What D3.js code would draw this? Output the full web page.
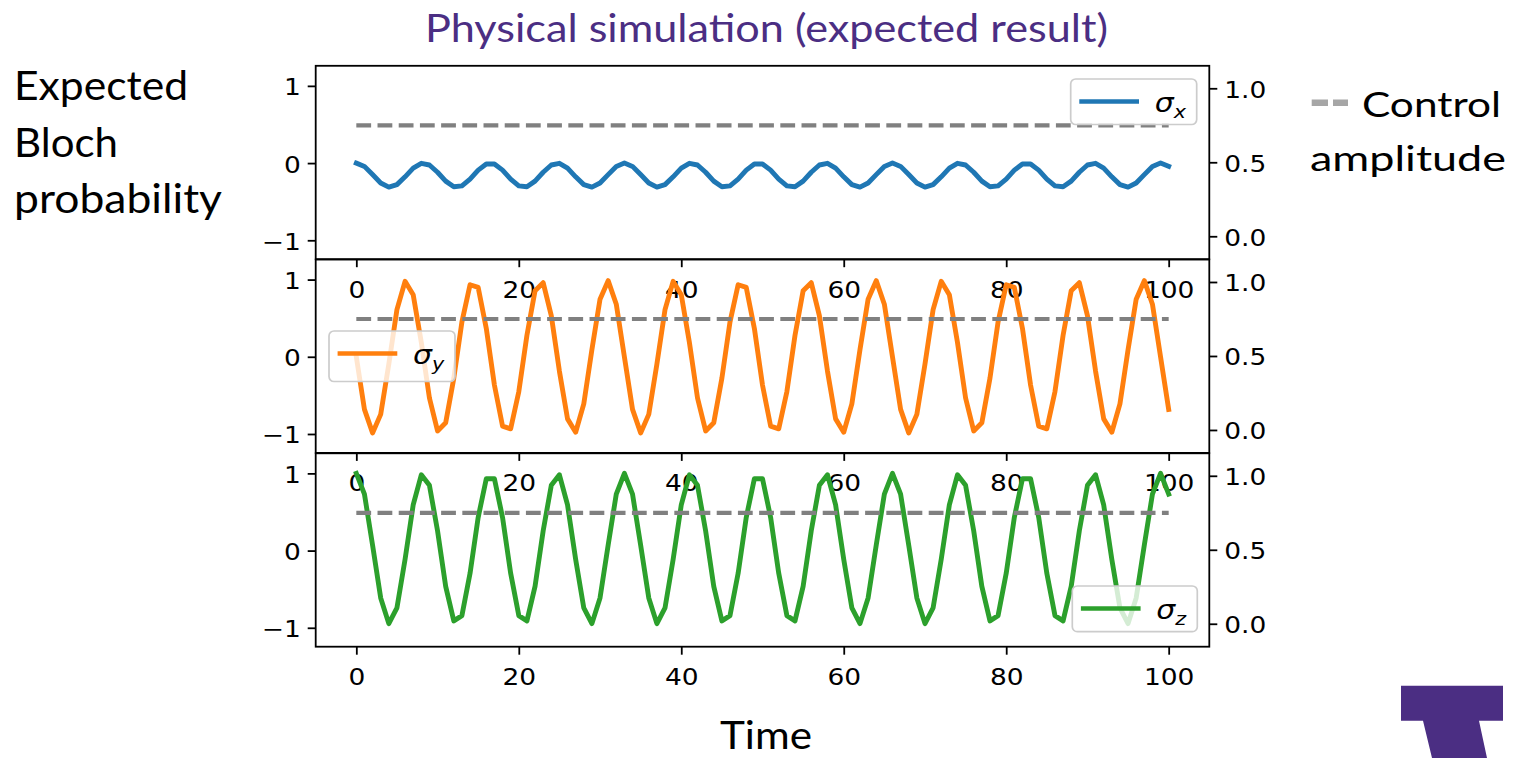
<!DOCTYPE html>
<html>
<head>
<meta charset="utf-8">
<script src="https://cdn.jsdelivr.net/npm/d3@7"></script>
<style>
  body { margin: 0; background: #fff; }
  svg { display: block; }
</style>
</head>
<body>
<svg id="chart" width="1519" height="758"></svg>
<script>
// ---- data -------------------------------------------------------------
const time = d3.range(0, 101);

const sigmaX = [
  0, -0.043, -0.149, -0.258, -0.312, -0.279, -0.178, -0.066, -0.003, -0.025, -0.119,
  -0.234, -0.306, -0.295, -0.207, -0.091, -0.011, -0.011, -0.091, -0.207, -0.295, -0.306,
  -0.234, -0.119, -0.025, -0.003, -0.066, -0.178, -0.279, -0.312, -0.258, -0.149, -0.043,
  0, -0.043, -0.149, -0.258, -0.312, -0.279, -0.178, -0.066, -0.003, -0.025, -0.119,
  -0.234, -0.306, -0.295, -0.207, -0.091, -0.011, -0.011, -0.091, -0.207, -0.295, -0.306,
  -0.234, -0.119, -0.025, -0.003, -0.066, -0.178, -0.279, -0.312, -0.258, -0.149, -0.043,
  0, -0.043, -0.149, -0.258, -0.312, -0.279, -0.178, -0.066, -0.003, -0.025, -0.119,
  -0.234, -0.306, -0.295, -0.207, -0.091, -0.011, -0.011, -0.091, -0.207, -0.295, -0.306,
  -0.234, -0.119, -0.025, -0.003, -0.066, -0.178, -0.279, -0.312, -0.258, -0.149, -0.043,
  0, -0.043
];

const sigmaY = [
  0, -0.681, -0.986, -0.746, -0.094, 0.610, 0.977, 0.804, 0.187, -0.534, -0.960,
  -0.855, -0.278, 0.452, 0.933, 0.898, 0.367, -0.367, -0.898, -0.933, -0.452, 0.278,
  0.855, 0.960, 0.534, -0.187, -0.804, -0.977, -0.610, 0.094, 0.746, 0.986, 0.681,
  0, -0.681, -0.986, -0.746, -0.094, 0.610, 0.977, 0.804, 0.187, -0.534, -0.960,
  -0.855, -0.278, 0.452, 0.933, 0.898, 0.367, -0.367, -0.898, -0.933, -0.452, 0.278,
  0.855, 0.960, 0.534, -0.187, -0.804, -0.977, -0.610, 0.094, 0.746, 0.986, 0.681,
  0, -0.681, -0.986, -0.746, -0.094, 0.610, 0.977, 0.804, 0.187, -0.534, -0.960,
  -0.855, -0.278, 0.452, 0.933, 0.898, 0.367, -0.367, -0.898, -0.933, -0.452, 0.278,
  0.855, 0.960, 0.534, -0.187, -0.804, -0.977, -0.610, 0.094, 0.746, 0.986, 0.681,
  0, -0.681
];

const sigmaZ = [
  1.000, 0.731, 0.071, -0.614, -0.946, -0.741, -0.114, 0.591, 0.982, 0.845, 0.255,
  -0.463, -0.911, -0.842, -0.294, 0.430, 0.930, 0.930, 0.430, -0.294, -0.842, -0.911,
  -0.463, 0.255, 0.845, 0.982, 0.591, -0.114, -0.741, -0.946, -0.614, 0.071, 0.731,
  1.000, 0.731, 0.071, -0.614, -0.946, -0.741, -0.114, 0.591, 0.982, 0.845, 0.255,
  -0.463, -0.911, -0.842, -0.294, 0.430, 0.930, 0.930, 0.430, -0.294, -0.842, -0.911,
  -0.463, 0.255, 0.845, 0.982, 0.591, -0.114, -0.741, -0.946, -0.614, 0.071, 0.731,
  1.000, 0.731, 0.071, -0.614, -0.946, -0.741, -0.114, 0.591, 0.982, 0.845, 0.255,
  -0.463, -0.911, -0.842, -0.294, 0.430, 0.930, 0.930, 0.430, -0.294, -0.842, -0.911,
  -0.463, 0.255, 0.845, 0.982, 0.591, -0.114, -0.741, -0.946, -0.614, 0.071, 0.731,
  1.000, 0.731
];

const controlTime = [0, 100];
const controlAmp = [0.75, 0.75];

const xTicks = [0, 20, 40, 60, 80, 100];
const leftTicks = [-1, 0, 1];
const rightTicks = [0, 0.5, 1.0];

const seriesValues = [sigmaX, sigmaY, sigmaZ];
const seriesSubs = ["x", "y", "z"];
const seriesColors = ["#1f77b4", "#ff7f0e", "#2ca02c"];

// ---- layout -----------------------------------------------------------
const svg = d3.select("#chart");
const SX = 1.15;                 // horizontal stretch of the plot text
const plotL = 315.7, plotR = 1209.3;
const panelTops = [65.8, 259.5, 453.3];
const panelH = 193.4;
const spineW = 1.8;
const tickFont = "'DejaVu Sans', sans-serif";
const officeFont = "Lato, 'Open Sans', sans-serif";
const purple = "#4b2e83";

// legend boxes: [x, y, w, h]
const legendBoxes = [
  [1070.7, 79, 126, 45.5],
  [329, 331, 126, 50.5],
  [1072.3, 586, 125, 45.7]
];

const x = d3.scaleLinear().domain([-5, 105]).range([plotL, plotR]);

function stretchTicks(axisG, side) {
  axisG.selectAll(".tick text").each(function () {
    const t = d3.select(this);
    if (side === "left" || side === "right") {
      const xv = +t.attr("x");
      t.attr("x", xv / SX).attr("dy", null).attr("y", 9);
    } else {
      t.attr("dy", null).attr("y", 38.5);
    }
    t.attr("transform", `scale(${SX},1)`);
  });
}

panelTops.forEach((top, i) => {
  const g = svg.append("g").attr("class", "panel");
  const yL = d3.scaleLinear().domain([-1.245, 1.26]).range([top + panelH, top]);
  const yR = d3.scaleLinear().domain([-0.155, 1.152]).range([top + panelH, top]);

  // left axis
  const aL = g.append("g")
    .attr("transform", `translate(${plotL},0)`)
    .call(d3.axisLeft(yL).tickValues(leftTicks).tickFormat(d3.format("d"))
      .tickSize(8).tickSizeOuter(0).tickPadding(7));
  // right axis
  const aR = g.append("g")
    .attr("transform", `translate(${plotR},0)`)
    .call(d3.axisRight(yR).tickValues(rightTicks).tickFormat(d3.format(".1f"))
      .tickSize(8).tickSizeOuter(0).tickPadding(7));
  // bottom axis
  const aB = g.append("g")
    .attr("transform", `translate(0,${top + panelH})`)
    .call(d3.axisBottom(x).tickValues(xTicks).tickFormat(d3.format("d"))
      .tickSize(8).tickSizeOuter(0));

  [aL, aR, aB].forEach(a => {
    a.select(".domain").remove();
    a.selectAll(".tick line").attr("stroke", "#000").attr("stroke-width", spineW);
    a.selectAll(".tick text").attr("fill", "#000")
      .style("font-family", tickFont).style("font-size", "23px");
  });
  stretchTicks(aL, "left");
  stretchTicks(aR, "right");
  stretchTicks(aB, "bottom");

  // series line
  const line = d3.line().x((d, k) => x(time[k])).y(d => yL(d));
  g.append("path")
    .datum(seriesValues[i])
    .attr("d", line)
    .attr("fill", "none")
    .attr("stroke", seriesColors[i])
    .attr("stroke-width", 4.9)
    .attr("stroke-linejoin", "round")
    .attr("stroke-linecap", "square");

  // control amplitude (right axis)
  const cLine = d3.line().x((d, k) => x(controlTime[k])).y(d => yR(d));
  g.append("path")
    .datum(controlAmp)
    .attr("d", cLine)
    .attr("fill", "none")
    .attr("stroke", "#808080")
    .attr("stroke-width", 4.2)
    .attr("stroke-dasharray", "14.8 6.4");

  // spines
  g.append("rect")
    .attr("x", plotL).attr("y", top)
    .attr("width", plotR - plotL).attr("height", panelH)
    .attr("fill", "none").attr("stroke", "#000").attr("stroke-width", spineW);

  // legend
  const [bx, by, bw, bh] = legendBoxes[i];
  const lg = g.append("g");
  lg.append("rect")
    .attr("x", bx).attr("y", by).attr("width", bw).attr("height", bh)
    .attr("rx", 5).attr("ry", 5)
    .attr("fill", "#fff").attr("fill-opacity", 0.8)
    .attr("stroke", "#cccccc").attr("stroke-width", 1.7);
  lg.append("line")
    .attr("x1", bx + 8.6).attr("x2", bx + 68.3)
    .attr("y1", by + 22.5).attr("y2", by + 22.5)
    .attr("stroke", seriesColors[i]).attr("stroke-width", 4.6)
    .attr("stroke-linecap", "butt");
  const lt = lg.append("text")
    .attr("transform", `translate(${bx + 84},${by + 32.5}) scale(${SX},1)`)
    .style("font-family", tickFont).style("font-style", "italic")
    .style("font-size", "26px").attr("fill", "#000");
  lt.append("tspan").text("σ");
  lt.append("tspan").attr("dy", 6).style("font-size", "18px").text(seriesSubs[i]);
});

// ---- surrounding labels ----------------------------------------------
function officeText(str, xPos, yPos, size, width, color) {
  return svg.append("text")
    .attr("x", xPos).attr("y", yPos)
    .attr("textLength", width).attr("lengthAdjust", "spacingAndGlyphs")
    .style("font-family", officeFont).style("font-size", size + "px")
    .attr("fill", color || "#000")
    .text(str);
}

officeText("Physical simulation (expected result)", 425, 42, 38, 683, purple);

officeText("Expected", 14, 100, 41, 174);
officeText("Bloch", 14, 157, 41, 104);
officeText("probability", 14, 213, 41, 208);

// control amplitude key
svg.append("rect").attr("x", 1311.7).attr("y", 99.5).attr("width", 16.3).attr("height", 6.5).attr("fill", "#a6a6a6");
svg.append("rect").attr("x", 1333).attr("y", 99.5).attr("width", 15).attr("height", 6.5).attr("fill", "#a6a6a6");
officeText("Control", 1362, 117, 34, 139);
officeText("amplitude", 1310, 171, 34, 196);

officeText("Time", 720, 749, 39, 92);

// logo mark
svg.append("path")
  .attr("d", "M1401,685.7 L1503,685.7 L1503,720.7 L1479,720.7 L1487,758 L1432,758 L1423,720.7 L1401,720.7 Z")
  .attr("fill", purple);
</script>
</body>
</html>
